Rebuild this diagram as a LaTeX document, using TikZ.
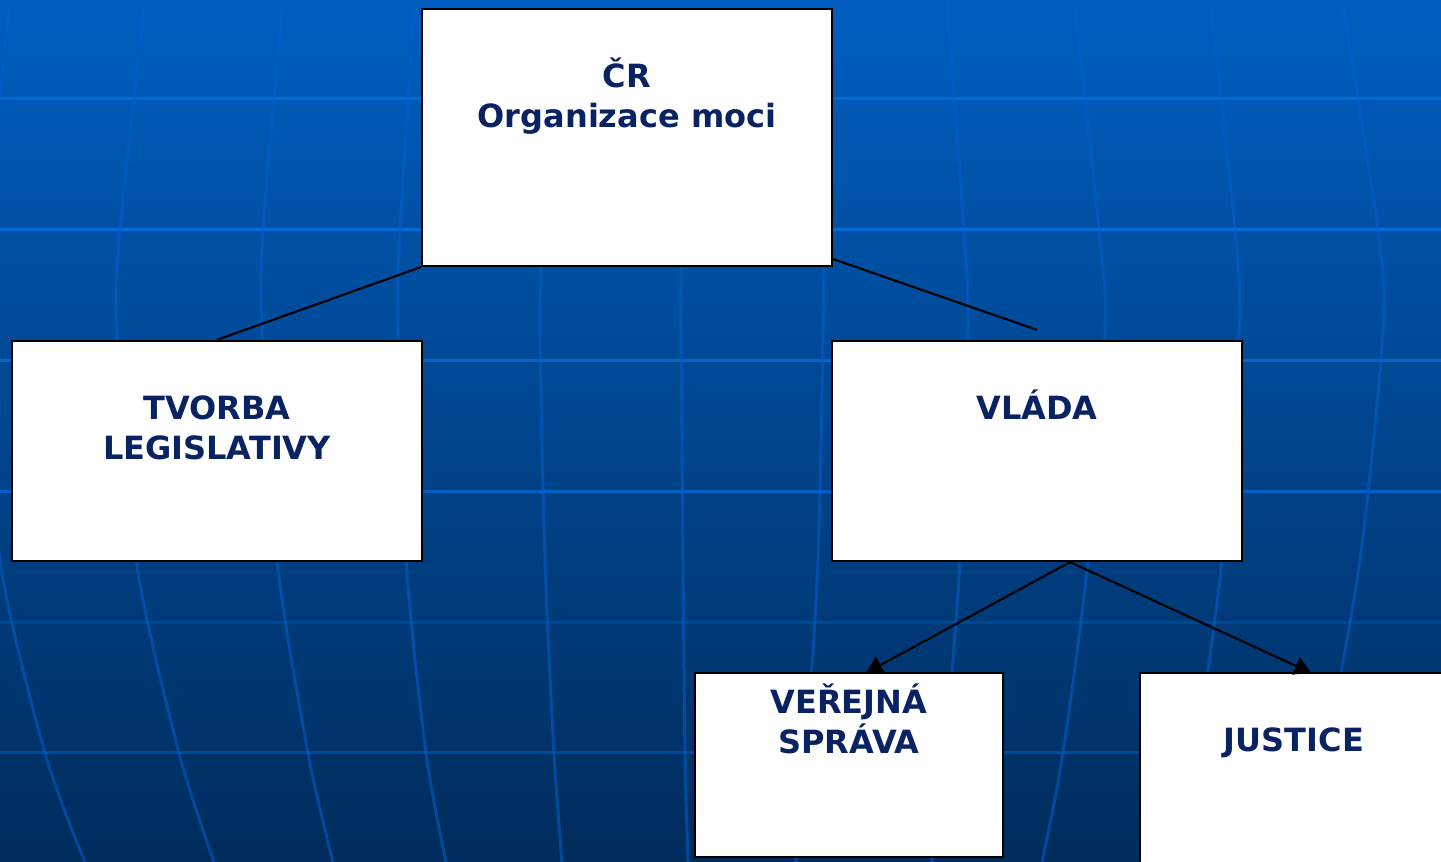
\documentclass[tikz,border=0pt]{standalone}
\usepackage{fontspec}
\setmainfont{DejaVu Sans}
\usetikzlibrary{arrows.meta}
\definecolor{navy}{RGB}{8,34,98}
\definecolor{bgtop}{RGB}{0,94,192}
\definecolor{bgmid}{RGB}{0,72,148}
\definecolor{bgbot}{RGB}{0,44,92}
\definecolor{gridblue}{RGB}{0,110,225}
\definecolor{meridblue}{RGB}{0,96,205}
\tikzset{
  orgbox/.style={draw=black,fill=white,line width=0.6pt,inner sep=0pt},
  orgtext/.style={text=navy,font=\fontsize{9.1pt}{11.4pt}\selectfont\bfseries,align=center,anchor=base,inner sep=0pt},
  link/.style={black,line width=0.6pt},
  linkarrow/.style={link,-{Triangle[length=4.7pt,width=5.3pt]}}
}
\begin{document}
\begin{tikzpicture}[x=0.01cm,y=-0.01cm]
\useasboundingbox (0,0) rectangle (1441,862);
\clip (0,0) rectangle (1441,862);
\shade[top color=bgtop,middle color=bgmid,bottom color=bgbot] (0,0) rectangle (1441,862);
\foreach \yy/\op in {99/0.9,230/0.9,361/0.8,492/0.7,623/0.25,753/0.4}
  \draw[gridblue,line width=0.85pt,opacity=\op] (0,\yy) -- (1441,\yy);
\foreach \xa/\xb/\xc/\xd/\xe/\xf in {10/-13/-16/0/45/85,145/120/117/136/179/214,283/263/262/277/308/333,
  415/400/398/406/426/446,546/542/540/545/554/562,680/681/681/683/685/688,815/823/823/818/806/796,
  947/964/968/960/945/932,1074/1099/1105/1088/1063/1042,1210/1235/1239/1222/1195/1170,1342/1378/1383/1360/1325/1295}
  \draw[meridblue,line width=0.85pt,opacity=0.55] plot[smooth] coordinates {(\xa,0) (\xb,230) (\xc,330) (\xd,560) (\xe,753) (\xf,862)};
\node[orgbox,minimum width=4.1cm,minimum height=2.57cm] (cr) at (627,137.5) {};
\node[orgbox,minimum width=4.1cm,minimum height=2.2cm] (tvorba) at (217,451) {};
\node[orgbox,minimum width=4.1cm,minimum height=2.2cm] (vlada) at (1037,451) {};
\node[orgbox,minimum width=3.08cm,minimum height=1.84cm] (verejna) at (849,765) {};
\node[orgbox,minimum width=3.08cm,minimum height=2.0cm] (justice) at (1294,773) {};
\node[orgtext] (crtext) at ([yshift=-1.2cm]cr.north) {ČR\\Organizace moci};
\node[orgtext] (tvorbatext) at ([yshift=-1.2cm]tvorba.north) {TVORBA\\LEGISLATIVY};
\node[orgtext] (vladatext) at ([yshift=-0.8cm]vlada.north) {VLÁDA};
\node[orgtext] (verejnatext) at ([yshift=-0.82cm]verejna.north) {VEŘEJNÁ\\SPRÁVA};
\node[orgtext] (justicetext) at ([yshift=-0.8cm]justice.north) {JUSTICE};
\coordinate (crright) at ([yshift=0.08cm]cr.south east);
\coordinate (vladatop) at ([yshift=0.1cm]vlada.north);
\coordinate (vladaout) at ([xshift=0.33cm]vlada.south);
\draw[link] (cr.south west) -- (tvorba.north);
\draw[link] (crright) -- (vladatop);
\draw[linkarrow] (vladaout) -- ([xshift=0.17cm,yshift=-0.01cm]verejna.north);
\draw[linkarrow] (vladaout) -- ([xshift=0.17cm,yshift=-0.01cm]justice.north);
\end{tikzpicture}
\end{document}
